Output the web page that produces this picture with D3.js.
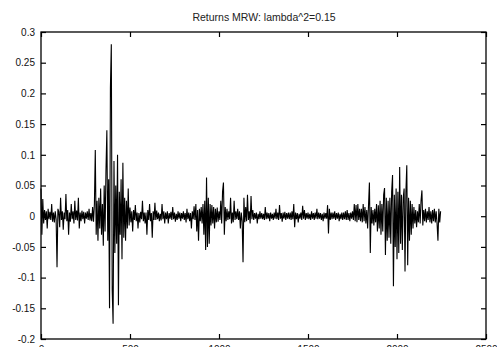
<!DOCTYPE html>
<html>
<head>
<meta charset="utf-8">
<script src="https://cdn.jsdelivr.net/npm/d3@7"></script>
<style>
  body { margin: 0; background: #fff; }
  svg { display: block; }
  text { font-family: "Liberation Sans", Arial, sans-serif; }
</style>
</head>
<body>
<div id="chart"></div>
<script>
const title = "Returns MRW: lambda^2=0.15";
const xTicks = [0, 500, 1000, 1500, 2000, 2500];
const yTicks = [-0.2, -0.15, -0.1, -0.05, 0, 0.05, 0.1, 0.15, 0.2, 0.25, 0.3];
const yTickLabels = ["-0.2", "-0.15", "-0.1", "-0.05", "0", "0.05", "0.1", "0.15", "0.2", "0.25", "0.3"];
const step = 5; // one value every 5 samples

const returns = [
  // 0 - 195
  .045,-.030,.028,-.012,.010,-.006,.008,-.020,.012,-.005,.007,-.006,.020,-.009,.006,-.010,.008,-.005,-.083,.012,
  .007,-.018,.030,-.006,.008,-.022,.006,-.005,.036,-.008,.010,-.030,.006,-.009,.020,-.005,.008,-.012,.025,-.006,
  // 200 - 395
  .009,-.007,.030,-.020,.006,-.008,.009,-.005,.007,-.012,.006,-.004,.008,-.006,.012,-.007,.005,-.008,.015,-.009,
  .020,.108,-.030,.025,-.040,.030,-.020,.045,-.030,.020,-.048,.050,-.025,.075,.140,-.040,.060,-.150,.210,.280,
  // 400 - 595
  -.120,-.175,.090,-.060,.050,-.045,.100,-.145,.040,-.030,.060,-.070,.087,-.035,.030,-.040,.025,-.020,.045,-.015,
  .014,-.010,.008,-.025,.010,-.006,.018,-.008,.006,-.020,.005,-.010,.007,-.005,.025,-.008,.006,-.012,.006,-.030,
  // 600 - 795
  .010,-.006,.020,-.008,.005,-.035,.008,-.006,.022,-.006,.009,-.005,.006,-.008,.004,-.007,.020,-.005,.008,-.012,
  .006,-.005,.008,-.012,.005,-.004,.007,-.006,.015,-.005,.006,-.009,.004,-.006,.008,-.004,.006,-.008,.005,-.004,
  // 800 - 995
  .008,-.006,.005,-.010,.012,-.005,.006,-.008,.005,-.020,.008,-.005,.016,-.006,.020,-.025,.010,-.040,.012,-.008,
  .015,-.012,.020,-.030,.025,-.055,.063,-.050,.030,-.045,.020,-.015,.018,-.012,.015,-.020,.012,-.010,.014,-.009,
  // 1000 - 1195
  .008,-.006,.025,-.012,.040,.055,-.030,.015,-.008,.012,-.006,.008,-.005,.030,-.012,.006,-.010,.025,-.006,.008,
  -.005,.012,-.006,.008,-.020,.006,-.008,-.075,.030,-.010,.015,-.008,.035,-.006,.008,-.012,.033,-.005,.010,-.006,
  // 1200 - 1395
  .005,-.004,.006,-.012,.004,-.005,.008,-.004,.005,-.005,.004,-.006,.015,-.005,.006,-.004,.005,-.008,.006,-.004,
  .004,-.006,.006,-.004,.012,-.005,.006,-.006,.018,-.004,.005,-.009,.006,-.004,.007,-.006,.005,-.004,.006,-.005,
  // 1400 - 1595
  .006,-.006,.008,-.005,.020,-.018,.006,-.005,.005,-.010,.004,-.004,.006,-.006,.017,-.004,.010,-.006,.005,-.004,
  .006,-.005,.004,-.006,.008,-.004,.005,-.006,.006,-.004,.012,-.005,.006,-.004,.005,-.006,.004,-.008,.006,-.004,
  // 1600 - 1795
  .005,-.004,.018,-.028,.012,-.006,.006,-.005,.006,-.004,.008,-.006,.005,-.004,.006,-.008,.004,-.005,.006,-.006,
  .006,-.005,.008,-.006,.010,-.006,.005,-.008,.006,-.004,.008,-.006,.020,-.008,.018,-.010,.020,-.006,.012,-.008,
  // 1800 - 1995
  .012,-.010,.020,-.008,.015,-.012,.010,-.020,.018,.055,-.060,.015,-.012,.010,-.015,.012,-.010,.020,-.025,.018,
  -.020,.025,-.030,.020,-.025,.035,.046,-.063,.030,-.040,.025,-.035,.030,-.045,.040,.067,-.114,.035,-.050,.045,
  // 2000 - 2195
  -.070,.040,-.060,.080,-.045,.035,-.055,.030,.045,-.090,.040,.083,-.080,.030,-.040,.025,-.030,.020,-.020,.015,
  -.012,.010,-.018,.008,-.010,.020,-.012,.025,.042,-.015,.010,-.008,.012,-.010,.008,-.006,.015,-.010,.008,-.012,
  // 2200 - 2245
  .010,-.008,.012,-.010,.008,-.012,-.040,.012,-.010,.008
];

const W = 497, H = 347;
const plot = { left: 41, right: 486, top: 32, bottom: 339 };

const svg = d3.select("#chart")
  .append("svg")
  .attr("width", W)
  .attr("height", H);

const x = d3.scaleLinear()
  .domain([0, 2500])
  .range([plot.left, plot.right]);

const y = d3.scaleLinear()
  .domain([-0.2, 0.3])
  .range([plot.bottom, plot.top]);

// title
svg.append("text")
  .attr("x", 264)
  .attr("y", 21)
  .attr("text-anchor", "middle")
  .attr("font-size", "10.5px")
  .attr("fill", "#222")
  .text(title);

// the series
const line = d3.line()
  .x((d, i) => x(i * step))
  .y(d => y(d));

svg.append("path")
  .datum(returns)
  .attr("fill", "none")
  .attr("stroke", "#000")
  .attr("stroke-width", 1.1)
  .attr("d", line);

// axes, ticks pointing inward on all four sides
function styleAxis(g) {
  g.select(".domain").remove();
  g.selectAll(".tick line").attr("stroke", "#000").attr("stroke-width", 1.2);
  g.selectAll("text")
    .attr("fill", "#111")
    .attr("font-size", "10px")
    .attr("font-family", "'Liberation Sans', Arial, sans-serif");
}

svg.append("g")
  .attr("transform", `translate(${plot.left},0)`)
  .call(d3.axisLeft(y).tickValues(yTicks)
    .tickFormat((d, i) => yTickLabels[i])
    .tickSizeInner(-5).tickSizeOuter(0).tickPadding(6))
  .call(styleAxis);

svg.append("g")
  .attr("transform", `translate(${plot.right},0)`)
  .call(d3.axisRight(y).tickValues(yTicks).tickFormat("")
    .tickSizeInner(-5).tickSizeOuter(0))
  .call(styleAxis);

// x labels sit partly below the bottom edge, as in the original
svg.append("g")
  .attr("transform", `translate(0,${plot.bottom})`)
  .call(d3.axisBottom(x).tickValues(xTicks).tickFormat(d3.format("d"))
    .tickSizeInner(-5).tickSizeOuter(0).tickPadding(7))
  .call(styleAxis);

svg.append("g")
  .attr("transform", `translate(0,${plot.top})`)
  .call(d3.axisTop(x).tickValues(xTicks).tickFormat("")
    .tickSizeInner(-5).tickSizeOuter(0))
  .call(styleAxis);

// frame
svg.append("rect")
  .attr("x", plot.left)
  .attr("y", plot.top)
  .attr("width", plot.right - plot.left)
  .attr("height", plot.bottom - plot.top)
  .attr("fill", "none")
  .attr("stroke", "#000")
  .attr("stroke-width", 1.3);
</script>
</body>
</html>
